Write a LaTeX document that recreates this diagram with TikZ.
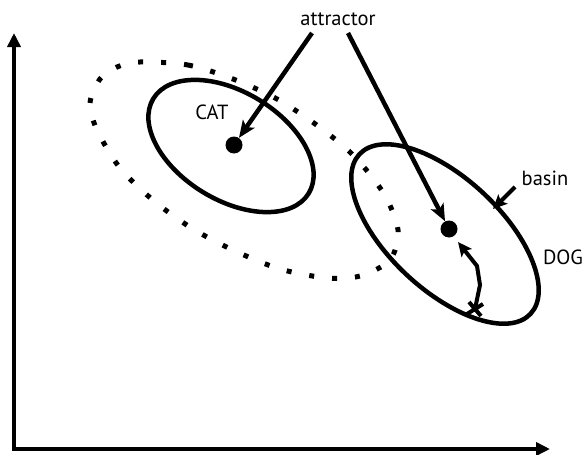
\documentclass[tikz,border=0pt]{standalone}
\usepackage{fontspec}
\setmainfont{PT Sans}
\usetikzlibrary{arrows.meta,positioning,calc}

\begin{document}
\begin{tikzpicture}[
    x=1pt, y=-1pt,
    >=Stealth,
    axis/.style={{Triangle[length=14pt,width=13pt]}-{Triangle[length=14pt,width=13pt]},
                 line width=4.5pt, line join=miter},
    border/.style={line width=4.5pt},
    rim/.style={line width=5pt, dash pattern=on 5pt off 18pt},
    pointer/.style={-{Stealth[length=17pt,width=14pt,inset=4pt]}, line width=4.5pt},
    small pointer/.style={-{Stealth[length=14pt,width=13pt,inset=3pt]}, line width=4pt},
    attr/.style={circle, fill, inner sep=0pt, minimum size=17pt},
    lbl/.style={font=\fontsize{20.5}{24}\selectfont, inner sep=0pt, anchor=base},
  ]
  \useasboundingbox (0,0) rectangle (584,455);

  % axes
  \coordinate (origin) at (14,449);
  \coordinate (ytop) at (14,33);
  \coordinate (xend) at (550,449);
  \draw[axis] (ytop) -- (origin) -- (xend);

  % outer dotted region
  \draw[rim] plot[smooth cycle] coordinates {
    (140,62) (188,65) (233,79) (277,99) (318,126) (354,156) (384,194)
    (398,230) (390,260) (360,276) (327,278) (280,269) (235,251) (193,229)
    (154,201) (120,168) (97,130) (90,103) (100,79) (117,67)};

  % basins
  \draw[border, rotate around={-31.4:(231,146)}]
    (231,146) ellipse [x radius=91, y radius=54];
  \draw[border, rotate around={-43:(445,234)}]
    (445,234) ellipse [x radius=117, y radius=56];

  % attractors
  \node[attr] (catdot) at (234,145) {};
  \node[attr] (dogdot) at (449,229) {};

  % labels
  \node[lbl] (attractor) at (338,25) {attractor};
  \node[lbl] (cat) at (212,119) {CAT};
  \node[lbl] (basin) at (545,185) {basin};
  \node[lbl] (dog) at (563,264) {DOG};

  \coordinate (attrL) at (312,33);
  \coordinate (attrR) at (348,33);
  \draw[pointer] (attrL) -- (catdot);
  \draw[pointer] (attrR) -- (dogdot);

  \coordinate (basintail) at (515,187);
  \coordinate (basintip) at (493,209);
  \draw[small pointer] (basintail) -- (basintip);

  % trajectory from a perturbed state
  \coordinate (xmark) at (475,309);
  \draw[line width=4pt] (xmark) +(-8,5) -- +(8,-5)
                        (xmark) +(-6,-7) -- +(6,7);
  \coordinate (trajend) at (458,242);
  \draw[small pointer] (xmark) -- (480,285) -- (477,266) -- (trajend);

\end{tikzpicture}
\end{document}
